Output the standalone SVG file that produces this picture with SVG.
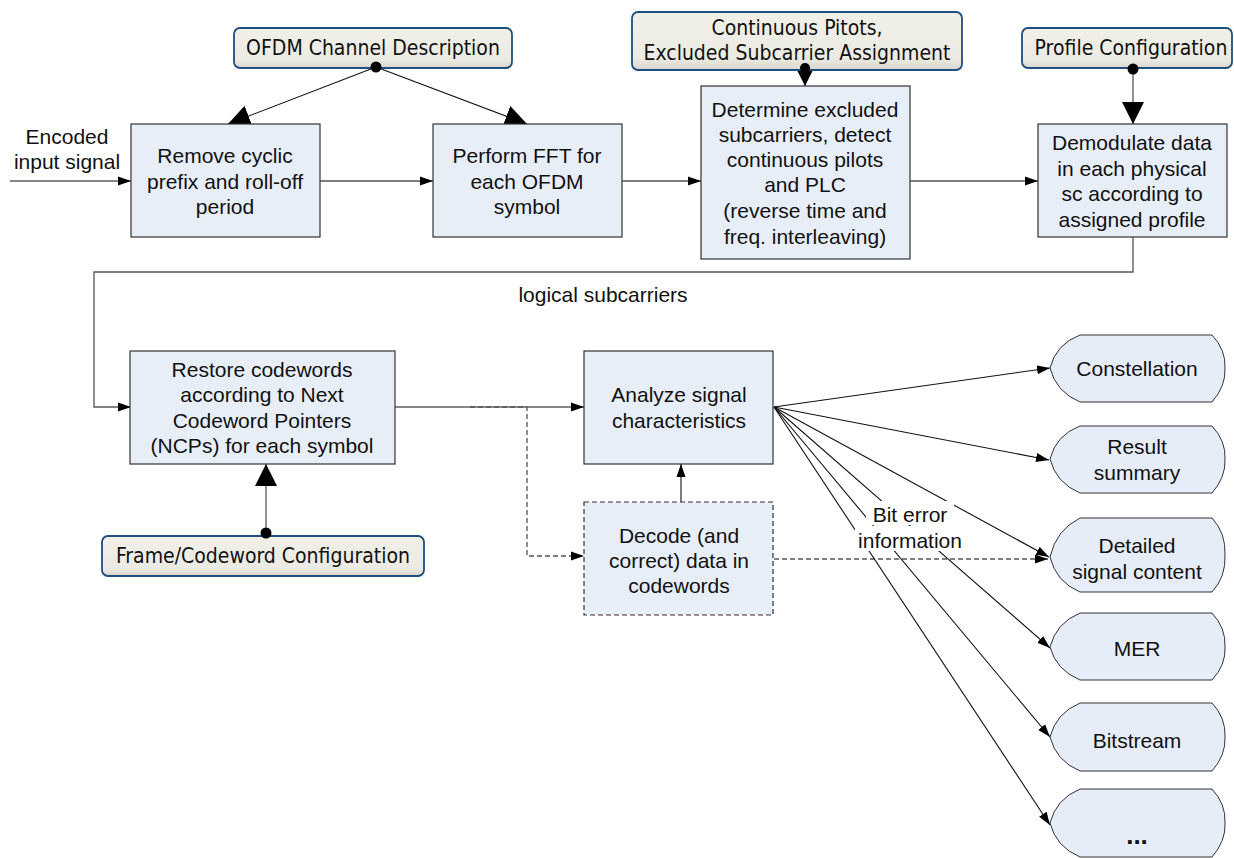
<svg xmlns="http://www.w3.org/2000/svg" width="1234" height="858" viewBox="0 0 1234 858">
<style>
text{font-family:"Liberation Sans",Arial,sans-serif;font-size:21px;fill:#111;text-anchor:middle}
.cfg text{font-family:"DejaVu Sans Condensed","Liberation Sans",sans-serif;font-size:21px}
.proc{fill:#e8eef8;stroke:#333;stroke-width:1.2}
.dash{stroke-dasharray:5,3}
.cfgbox{fill:url(#cg);stroke:#1f4e80;stroke-width:1.8}
.out{fill:#e6edf8;stroke:#333;stroke-width:1}
.c{fill:none;stroke:#111;stroke-width:1.1}
.g{fill:none;stroke:#555;stroke-width:1.3}
</style>
<defs>
<linearGradient id="cg" x1="0" y1="0" x2="0" y2="1">
<stop offset="0" stop-color="#f0efe8"/><stop offset="0.8" stop-color="#ecebe3"/><stop offset="1" stop-color="#d8d6cc"/>
</linearGradient>
<marker id="s" markerUnits="userSpaceOnUse" markerWidth="14" markerHeight="10" refX="13" refY="5" orient="auto"><path d="M0,0.5 L13,5 L0,9.5 Z" fill="#000"/></marker>
<marker id="b" markerUnits="userSpaceOnUse" markerWidth="24" markerHeight="22" refX="22" refY="11" orient="auto"><path d="M0,0 L22,11 L0,22 Z" fill="#000"/></marker>
</defs>

<g id="connectors">
<line class="c" x1="10" y1="181" x2="131" y2="181" marker-end="url(#s)"/>
<line class="g" x1="320" y1="181" x2="433" y2="181" marker-end="url(#s)"/>
<line class="g" x1="622" y1="181" x2="701" y2="181" marker-end="url(#s)"/>
<line class="g" x1="910" y1="181" x2="1038" y2="181" marker-end="url(#s)"/>
<line class="c" x1="376" y1="67" x2="228" y2="124" marker-end="url(#b)"/>
<line class="c" x1="376" y1="67" x2="527" y2="124" marker-end="url(#b)"/>
<line class="c" x1="805" y1="66" x2="805" y2="86" marker-end="url(#b)"/>
<line class="g" x1="1133" y1="69" x2="1133" y2="124" marker-end="url(#b)"/>
<polyline class="g" points="1133,237 1133,272 94,272 94,407 131,407" marker-end="url(#s)"/>
<line class="g" x1="266" y1="532" x2="266" y2="464" marker-end="url(#b)"/>
<line class="c" x1="395" y1="407" x2="584" y2="407" marker-end="url(#s)"/>
<polyline class="g dash" points="470,407 527,407 527,556 584,556" marker-end="url(#s)"/>
<line class="c" x1="681" y1="502" x2="681" y2="464" marker-end="url(#s)"/>
<line class="g dash" x1="774" y1="559" x2="1048" y2="559" marker-end="url(#s)"/>
<g>
<line class="c" x1="774" y1="407" x2="1050" y2="368" marker-end="url(#s)"/>
<line class="c" x1="774" y1="407" x2="1049" y2="460" marker-end="url(#s)"/>
<line class="c" x1="774" y1="407" x2="1049" y2="557" marker-end="url(#s)"/>
<line class="c" x1="774" y1="407" x2="1050" y2="648" marker-end="url(#s)"/>
<line class="c" x1="774" y1="407" x2="1050" y2="737" marker-end="url(#s)"/>
<line class="c" x1="774" y1="407" x2="1050" y2="825" marker-end="url(#s)"/>
</g>
<rect x="866" y="501" width="88" height="24" fill="#fff"/>
<rect x="855" y="526" width="112" height="25" fill="#fff"/>
<text x="910" y="522">Bit error</text>
<text x="910" y="548">information</text>
<text x="603" y="302">logical subcarriers</text>
<text x="67" y="144">Encoded</text>
<text x="67" y="169">input signal</text>
</g>

<g id="ofdm-desc" class="cfg">
<rect class="cfgbox" x="234" y="28" width="278" height="40" rx="6"/>
<text x="373" y="55">OFDM Channel Description</text>
<circle cx="376" cy="67" r="5.5" fill="#000"/>
</g>
<g id="cont-pilots" class="cfg">
<rect class="cfgbox" x="632" y="12" width="330" height="58" rx="6"/>
<text x="797" y="35">Continuous Pitots,</text>
<text x="797" y="60">Excluded Subcarrier Assignment</text>
<circle cx="805" cy="68" r="5" fill="#000"/>
</g>
<g id="profile-cfg" class="cfg">
<rect class="cfgbox" x="1022" y="28" width="210" height="40" rx="6"/>
<text x="1131" y="55">Profile Configuration</text>
<circle cx="1133" cy="69" r="5.5" fill="#000"/>
</g>
<g id="frame-cfg" class="cfg">
<rect class="cfgbox" x="102" y="536" width="322" height="40" rx="6"/>
<text x="263" y="563">Frame/Codeword Configuration</text>
<circle cx="266" cy="533" r="5.5" fill="#000"/>
</g>

<g id="remove-cp">
<rect class="proc" x="131" y="124" width="189" height="113"/>
<text x="225" y="163">Remove cyclic</text>
<text x="225" y="189">prefix and roll-off</text>
<text x="225" y="214">period</text>
</g>
<g id="fft">
<rect class="proc" x="433" y="124" width="189" height="113"/>
<text x="527" y="163">Perform FFT for</text>
<text x="527" y="189">each OFDM</text>
<text x="527" y="214">symbol</text>
</g>
<g id="determine">
<rect class="proc" x="701" y="86" width="209" height="173"/>
<text x="805" y="117">Determine excluded</text>
<text x="805" y="142">subcarriers, detect</text>
<text x="805" y="167">continuous pilots</text>
<text x="805" y="192">and PLC</text>
<text x="805" y="218">(reverse time and</text>
<text x="805" y="244">freq. interleaving)</text>
</g>
<g id="demodulate">
<rect class="proc" x="1038" y="124" width="189" height="113"/>
<text x="1132" y="150">Demodulate data</text>
<text x="1132" y="176">in each physical</text>
<text x="1132" y="201">sc according to</text>
<text x="1132" y="227">assigned profile</text>
</g>
<g id="restore">
<rect class="proc" x="130" y="351" width="265" height="113"/>
<text x="262" y="377">Restore codewords</text>
<text x="262" y="402">according to Next</text>
<text x="262" y="428">Codeword Pointers</text>
<text x="262" y="453">(NCPs) for each symbol</text>
</g>
<g id="analyze">
<rect class="proc" x="584" y="351" width="189" height="113"/>
<text x="679" y="402">Analyze signal</text>
<text x="679" y="428">characteristics</text>
</g>
<g id="decode">
<rect class="proc dash" x="584" y="502" width="189" height="113"/>
<text x="679" y="543">Decode (and</text>
<text x="679" y="568">correct) data in</text>
<text x="679" y="593">codewords</text>
</g>

<g id="constellation">
<path class="out" d="M1080,335 H1212 Q1226,350 1225,368 Q1226,386 1212,402 H1080 Q1056,392 1050,368 Q1056,344 1080,335 Z"/>
<text x="1137" y="376">Constellation</text>
</g>
<g id="result">
<path class="out" d="M1080,426 H1212 Q1226,441 1225,459 Q1226,477 1212,493 H1080 Q1056,483 1050,459 Q1056,435 1080,426 Z"/>
<text x="1137" y="454">Result</text>
<text x="1137" y="480">summary</text>
</g>
<g id="detailed">
<path class="out" d="M1080,518 H1212 Q1226,533 1225,555 Q1226,577 1212,592 H1080 Q1056,582 1050,557 Q1056,530 1080,518 Z"/>
<text x="1137" y="553">Detailed</text>
<text x="1137" y="579">signal content</text>
</g>
<g id="mer">
<path class="out" d="M1080,613 H1212 Q1226,628 1225,647 Q1226,665 1212,680 H1080 Q1056,670 1050,647 Q1056,623 1080,613 Z"/>
<text x="1137" y="656">MER</text>
</g>
<g id="bitstream">
<path class="out" d="M1080,703 H1212 Q1226,718 1225,737 Q1226,755 1212,771 H1080 Q1056,761 1050,737 Q1056,713 1080,703 Z"/>
<text x="1137" y="748">Bitstream</text>
</g>
<g id="more">
<path class="out" d="M1080,789 H1212 Q1226,804 1225,823 Q1226,841 1212,857 H1080 Q1056,847 1050,823 Q1056,799 1080,789 Z"/>
<text x="1137" y="844" style="font-weight:bold;font-size:26px">...</text>
</g>
</svg>
